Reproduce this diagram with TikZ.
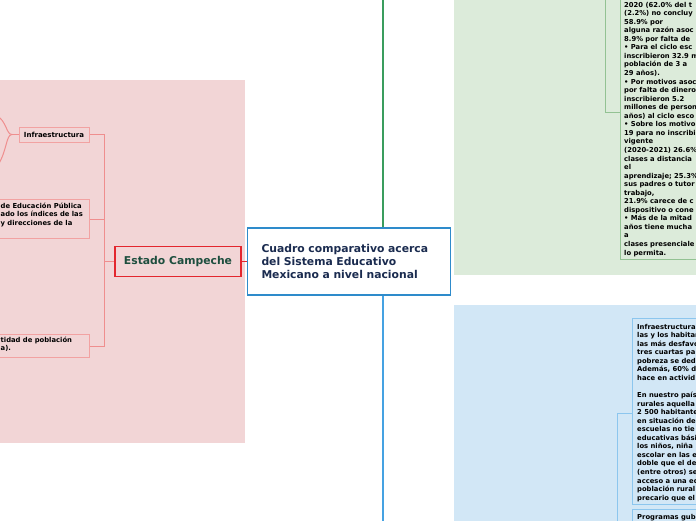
\documentclass[tikz,border=0pt]{standalone}
\usepackage{fontspec}
\setmainfont{DejaVu Sans}

\definecolor{pinkbg}{HTML}{F2D5D6}
\definecolor{pinkline}{HTML}{EF8E8E}
\definecolor{pinkedge}{HTML}{F2A2A2}
\definecolor{redge}{HTML}{E3262E}
\definecolor{campgreen}{HTML}{1D4E3E}
\definecolor{rootedge}{HTML}{2E8BCB}
\definecolor{roottext}{HTML}{1A2B4F}
\definecolor{trunkgreen}{HTML}{3A9D5E}
\definecolor{trunkblue}{HTML}{45A2E2}
\definecolor{greenbg}{HTML}{DCEBDA}
\definecolor{greenedge}{HTML}{93C293}
\definecolor{bluebg}{HTML}{D2E7F6}
\definecolor{bluedge}{HTML}{8CC6EE}

\begin{document}
\begin{tikzpicture}[x=1pt,y=-1pt,
  bigtxt/.style={font=\bfseries\fontsize{10.8}{12.8}\selectfont},
  smalltxt/.style={font=\bfseries\fontsize{6.8}{8.55}\selectfont,align=left,inner sep=0pt,anchor=north west},
  pinkbox/.style={draw=pinkedge,fill=pinkbg,line width=1pt,minimum width=99,anchor=north west,inner sep=0pt},
  textbox/.style={line width=1pt,minimum width=110,anchor=north west,inner sep=0pt},
  pinkconn/.style={draw=pinkline,line width=1pt}]
  \useasboundingbox (0,0) rectangle (696,520);
  \clip (0,0) rectangle (696,520);
  \fill[white] (0,0) rectangle (696,520);
  \fill[pinkbg] (0,80) rectangle (245,443);
  \fill[greenbg] (454,-2) rectangle (698,275);
  \fill[bluebg] (454,305) rectangle (698,522);

  \node[draw=rootedge,fill=white,line width=1.6pt,minimum width=203,minimum height=67,
    text width=175,align=left,inner xsep=14,bigtxt,text=roottext] (root) at (349,261.5)
    {Cuadro comparativo acerca\\del Sistema Educativo\\Mexicano a nivel nacional};
  \node[draw=redge,fill=pinkbg,line width=1.6pt,minimum width=126,minimum height=30,
    bigtxt,text=campgreen] (camp) at (178,261.5) {Estado Campeche};

  \node[draw=pinkedge,fill=pinkbg,line width=1pt,minimum width=70,minimum height=15,inner sep=0pt,
    font=\bfseries\fontsize{7}{8.5}\selectfont] (infra) at (54,134.5) {Infraestructura};
  \node[pinkbox,minimum height=39] (sep) at (-10,199) {};
  \node[smalltxt] (septxt) at (0.5,202) {\strut de Educación Pública\\ado los índices de las\\y direcciones de la};
  \node[pinkbox,minimum height=23] (pob) at (-10,334) {};
  \node[smalltxt,font=\bfseries\fontsize{6.8}{8}\selectfont] (pobtxt) at (0.5,337) {\strut tidad de población\\a).};

  \node[textbox,draw=greenedge,fill=greenbg,minimum height=271] (inscr) at (620,-12) {};
  \node[smalltxt] (inscrtxt) at (624,-7.6) {\strut inscritas en el ciclo\\2020 (62.0\% del t\\(2.2\%) no concluy\\58.9\% por\\
    alguna razón asoc\\8.9\% por falta de\\• Para el ciclo esc\\inscribieron 32.9 m\\población de 3 a\\29 años).\\
    • Por motivos asoc\\por falta de dinero\\inscribieron 5.2\\millones de person\\años) al ciclo esco\\
    • Sobre los motivo\\19 para no inscribi\\vigente\\(2020-2021) 26.6\%\\clases a distancia\\el\\
    aprendizaje; 25.3\%\\sus padres o tutor\\trabajo,\\21.9\% carece de c\\dispositivo o cone\\
    • Más de la mitad\\años tiene mucha\\a\\clases presenciale\\lo permita.};

  \node[textbox,draw=bluedge,fill=bluebg,minimum height=186] (infrab) at (632,318) {};
  \node[smalltxt] (infrabtxt) at (637,323) {\strut Infraestructura\\las y los habitan\\las más desfavo\\tres cuartas pa\\
    pobreza se ded\\Además, 60\% d\\hace en activid\\[8.55pt]En nuestro país\\rurales aquella\\2 500 habitante\\
    en situación de\\escuelas no tie\\educativas bási\\los niños, niña\\escolar en las e\\doble que el de\\
    (entre otros) se\\acceso a una ed\\población rural\\precario que el};
  \node[textbox,draw=bluedge,fill=bluebg,minimum height=30] (prog) at (632,509) {};
  \node[smalltxt] (progtxt) at (637,513) {\strut Programas gub};

  \coordinate (gtop) at (383,-5);
  \coordinate (bbot) at (383,525);
  \draw[draw=trunkgreen,line width=1.3pt] (root.north -| gtop) -- (gtop);
  \draw[draw=trunkblue,line width=1.3pt] (root.south -| bbot) -- (bbot);
  \draw[draw=redge,line width=1pt] (root.west) -- (camp.east);

  \coordinate (pj) at (104,261.5);
  \draw[pinkconn] (camp.west) -- (pj);
  \draw[pinkconn] (pj) |- (infra.east);
  \draw[pinkconn] (pj) |- (sep.east);
  \draw[pinkconn] (pj) |- (pob.east);

  \coordinate (ij) at (12,134.5);
  \coordinate (ia) at (-4,115);
  \coordinate (ib) at (-2,165);
  \draw[pinkconn] (infra.west) -- (ij);
  \draw[pinkconn] (ij) .. controls (6,134.5) and (7,121) .. (ia);
  \draw[pinkconn] (ij) .. controls (6,134.5) and (7,151) .. (ib);

  \coordinate (gj) at (605,-5);
  \coordinate (gk) at (605,112);
  \draw[draw=greenedge,line width=1pt] (gj) -- (gk) -- (gk -| inscr.west);
  \coordinate (bj) at (617,525);
  \coordinate (bk) at (617,413);
  \draw[draw=bluedge,line width=1pt] (bj) -- (bk) -- (bk -| infrab.west);
\end{tikzpicture}
\end{document}
